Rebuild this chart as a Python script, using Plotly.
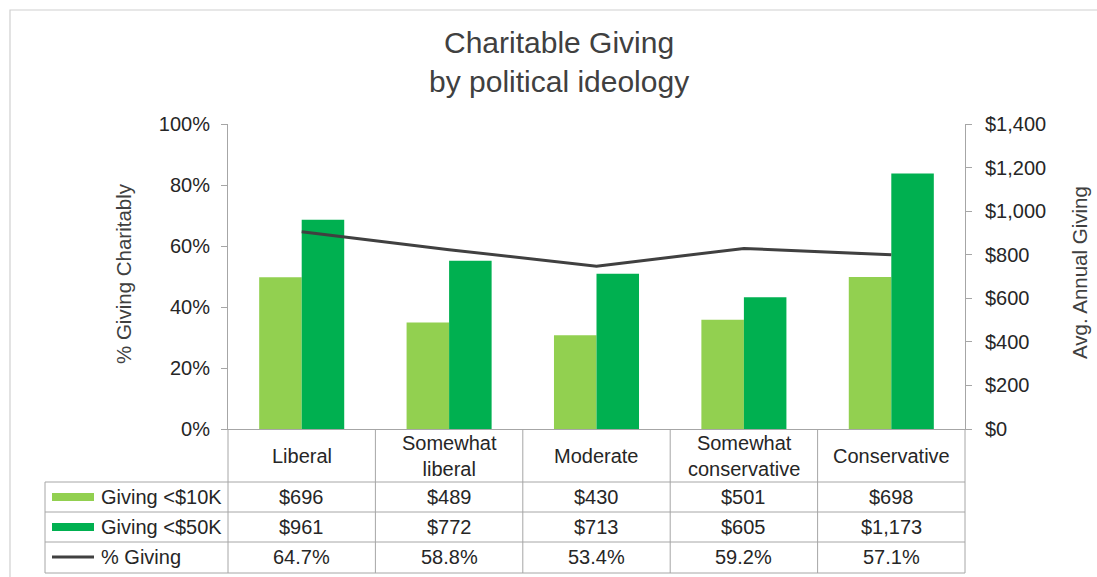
import plotly.graph_objects as go

# Ideology groups and survey results
categories = ["Liberal", "Somewhat<br>liberal", "Moderate", "Somewhat<br>conservative", "Conservative"]
giving_10k = [696, 489, 430, 501, 698]      # avg. annual giving, income < $10K
giving_50k = [961, 772, 713, 605, 1173]     # avg. annual giving, income < $50K
pct_giving = [0.647, 0.588, 0.534, 0.592, 0.571]  # share giving charitably

series_names = ["Giving <$10K", "Giving <$50K", "% Giving"]

W, H = 1097, 577
PL, PR, PT, PB = 228, 965, 124, 429  # plot area edges in pixels

LIGHT = "#92D050"
DARK = "#00B050"
LINE = "#404040"
GRID = "#A6A6A6"
TXT = "#262626"
FONT = "Liberation Sans, Arial, sans-serif"


def px(x):
    return (x - PL) / (PR - PL)


def py(y):
    return (PB - y) / (PB - PT)


fig = go.Figure()
fig.add_trace(go.Bar(x=categories, y=giving_10k, name=series_names[0],
                     marker=dict(color=LIGHT, line=dict(width=0)), yaxis="y"))
fig.add_trace(go.Bar(x=categories, y=giving_50k, name=series_names[1],
                     marker=dict(color=DARK, line=dict(width=0)), yaxis="y"))
fig.add_trace(go.Scatter(x=categories, y=pct_giving, name=series_names[2], mode="lines",
                         line=dict(color=LINE, width=3), yaxis="y2"))

shapes = []
annotations = []

# outer chart border
shapes.append(dict(type="rect", xref="paper", yref="paper",
                   x0=px(10), x1=px(1120), y0=py(10), y1=py(600),
                   line=dict(color="#D0D0D0", width=1.2)))

# data table grid
row_lines = [482, 512, 542, 573]
for y in row_lines:
    shapes.append(dict(type="line", xref="paper", yref="paper",
                       x0=px(45), x1=px(PR), y0=py(y), y1=py(y),
                       line=dict(color=GRID, width=1)))
shapes.append(dict(type="line", xref="paper", yref="paper",
                   x0=px(45), x1=px(45), y0=py(482), y1=py(573),
                   line=dict(color=GRID, width=1)))
n = len(categories)
for i in range(n + 1):
    xb = PL + (PR - PL) * i / n
    shapes.append(dict(type="line", xref="paper", yref="paper",
                       x0=px(xb), x1=px(xb), y0=py(PB), y1=py(573),
                       line=dict(color=GRID, width=1)))

# legend keys inside the table
shapes.append(dict(type="rect", xref="paper", yref="paper",
                   x0=px(52), x1=px(94), y0=py(493), y1=py(501),
                   fillcolor=LIGHT, line=dict(width=0)))
shapes.append(dict(type="rect", xref="paper", yref="paper",
                   x0=px(52), x1=px(94), y0=py(523), y1=py(531),
                   fillcolor=DARK, line=dict(width=0)))
shapes.append(dict(type="line", xref="paper", yref="paper",
                   x0=px(52), x1=px(94), y0=py(557), y1=py(557),
                   line=dict(color=LINE, width=3)))

row_centers = [497, 527, 557]
for name, yc in zip(series_names, row_centers):
    annotations.append(dict(x=px(99), y=py(yc), xref="paper", yref="paper",
                            text=name, showarrow=False, xanchor="left", yanchor="middle",
                            font=dict(size=20, color=TXT, family=FONT)))

row_texts = [
    [f"${v:,}" for v in giving_10k],
    [f"${v:,}" for v in giving_50k],
    [f"{p * 100:.1f}%" for p in pct_giving],
]
for i, cat in enumerate(categories):
    xc = PL + (PR - PL) * (i + 0.5) / n
    annotations.append(dict(x=px(xc), y=py(455.5), xref="paper", yref="paper",
                            text=cat, showarrow=False, xanchor="center", yanchor="middle",
                            font=dict(size=20, color=TXT, family=FONT)))
    for texts, yc in zip(row_texts, row_centers):
        annotations.append(dict(x=px(xc), y=py(yc), xref="paper", yref="paper",
                                text=texts[i], showarrow=False, xanchor="center", yanchor="middle",
                                font=dict(size=20, color=TXT, family=FONT)))

# chart title and axis titles
annotations.append(dict(x=px(559), y=py(62), xref="paper", yref="paper",
                        text="Charitable Giving<br>by political ideology", showarrow=False,
                        xanchor="center", yanchor="middle",
                        font=dict(size=30, color="#404040", family=FONT)))
annotations.append(dict(x=px(123), y=py(274), xref="paper", yref="paper",
                        text="% Giving Charitably", showarrow=False, textangle=-90,
                        xanchor="center", yanchor="middle",
                        font=dict(size=20.5, color="#404040", family=FONT)))
annotations.append(dict(x=px(1079), y=py(273), xref="paper", yref="paper",
                        text="Avg. Annual Giving", showarrow=False, textangle=-90,
                        xanchor="center", yanchor="middle",
                        font=dict(size=20.5, color="#404040", family=FONT)))

fig.update_layout(
    width=W, height=H,
    margin=dict(l=PL, r=W - PR, t=PT, b=H - PB, pad=0),
    paper_bgcolor="white", plot_bgcolor="white",
    barmode="group", bargap=0.423, bargroupgap=0,
    showlegend=False,
    font=dict(family=FONT, size=20, color=TXT),
    xaxis=dict(showticklabels=False, ticks="", showgrid=False, zeroline=False,
               showline=True, linecolor=GRID, linewidth=1),
    yaxis=dict(side="right", range=[0, 1400], dtick=200, tickprefix="$", tickformat=",",
               showgrid=False, zeroline=False, showline=True, linecolor=GRID, linewidth=1,
               ticks="outside", ticklen=6, tickcolor=GRID, ticklabelstandoff=9,
               tickfont=dict(size=20, color=TXT, family=FONT)),
    yaxis2=dict(overlaying="y", side="left", range=[0, 1], dtick=0.2, tickformat=".0%",
                showgrid=False, zeroline=False, showline=True, linecolor=GRID, linewidth=1,
                ticks="outside", ticklen=6, tickcolor=GRID, ticklabelstandoff=7,
                tickfont=dict(size=20, color=TXT, family=FONT)),
    shapes=shapes,
    annotations=annotations,
)

fig.write_html("out.html")
